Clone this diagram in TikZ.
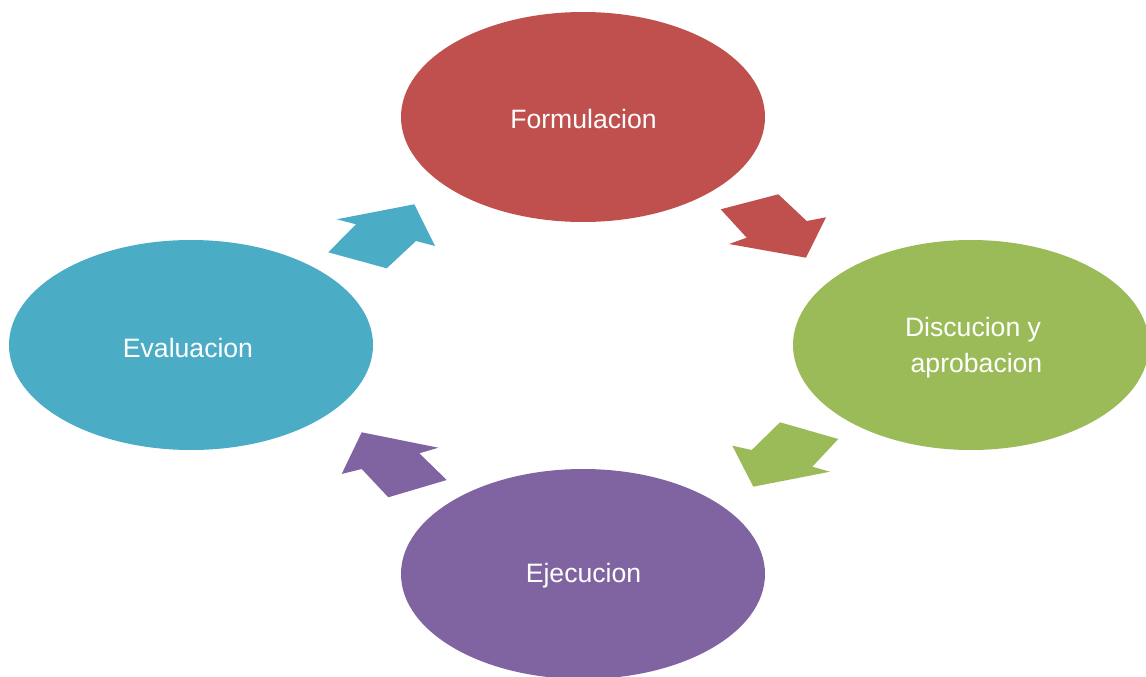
\documentclass[tikz,border=0pt]{standalone}
\usepackage{fontspec}
\setmainfont{Liberation Sans}
\definecolor{cred}{HTML}{C0504D}
\definecolor{cgreen}{HTML}{9BBB59}
\definecolor{cpurple}{HTML}{8064A2}
\definecolor{cblue}{HTML}{4BACC6}
\begin{document}
\begin{tikzpicture}[x=1pt,y=-1pt,
  lbl/.style={text=white,font=\fontsize{26.6}{36}\selectfont,align=center,inner sep=0pt}]
\useasboundingbox (0,0) rectangle (1146,677);
\clip (0,0) rectangle (1146,677);
\fill[white] (0,0) rectangle (1146,677);
% ellipses
\fill[cred] (583,117) ellipse [x radius=182,y radius=105];
\fill[cgreen] (971,345) ellipse [x radius=178,y radius=105];
\fill[cpurple] (583,574) ellipse [x radius=182,y radius=105];
\fill[cblue] (191,345) ellipse [x radius=182,y radius=105];
\node[lbl] (f) at (583.5,119) {Formulacion};
\node[lbl] (d) at (973,348) {Discucion y\\ \hspace*{7pt}aprobacion};
\node[lbl] (e) at (583.5,576) {Ejecucion};
\node[lbl] (v) at (188,348) {Evaluacion};
% arrows
\fill[cred] (720.7,209.3) -- (778.3,194.3) -- (806.7,221) -- (826,217.3) -- (806,257.7) -- (729,244) -- (746.7,237.7) -- cycle;
\fill[cgreen] (780,422.3) -- (838.3,439) -- (812.3,466.7) -- (830,471.7) -- (753.3,486.7) -- (732.3,445.7) -- (751.7,450) -- cycle;
\fill[cpurple] (361.7,432.3) -- (438.3,447.7) -- (419.3,453.3) -- (446.7,480) -- (388.3,497.3) -- (361.7,469) -- (341.7,474) -- cycle;
\fill[cblue] (336.7,219.3) -- (414.3,204.3) -- (435,246) -- (416,241) -- (386.7,268.3) -- (328.3,252.3) -- (356,224.3) -- cycle;
\end{tikzpicture}
\end{document}
